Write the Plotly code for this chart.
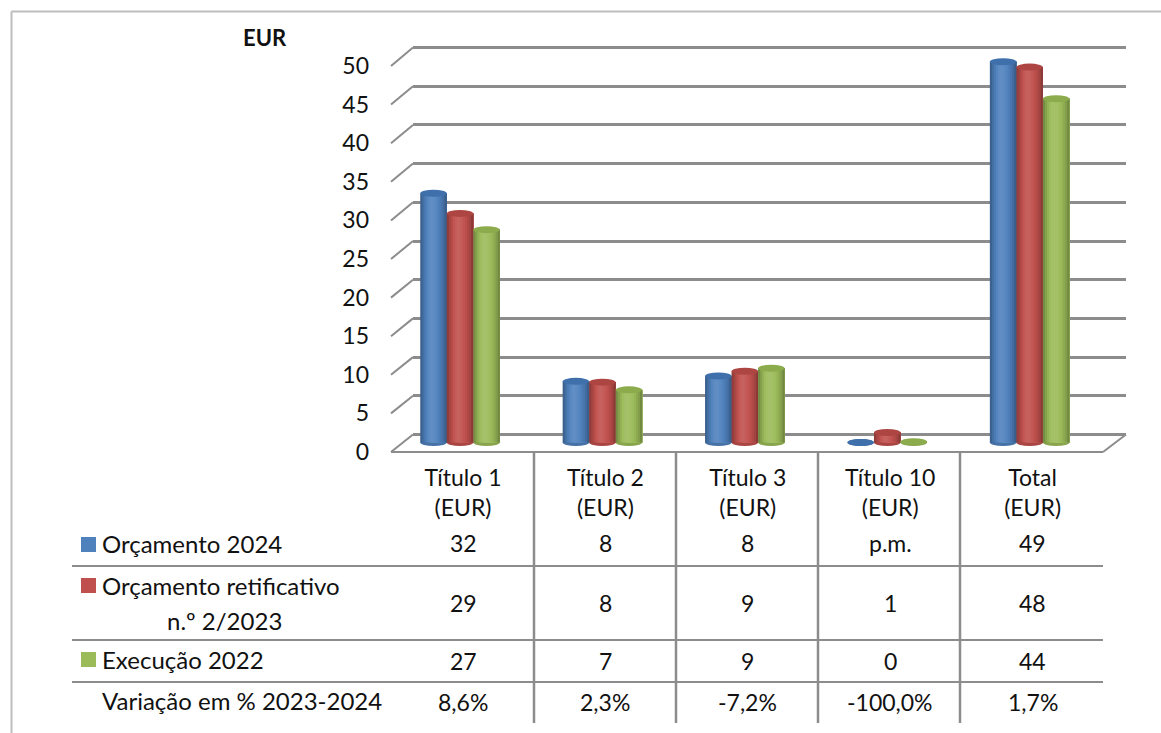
import plotly.graph_objects as go

# ---------- data ----------
categories = ["Título 1<br>(EUR)", "Título 2<br>(EUR)", "Título 3<br>(EUR)", "Título 10<br>(EUR)", "Total<br>(EUR)"]
orcamento_2024 = [32.2, 7.9, 8.6, 0.0, 49.2]
orcamento_retificativo = [29.6, 7.8, 9.2, 1.3, 48.5]
execucao_2022 = [27.5, 6.8, 9.6, 0.1, 44.4]
series_names = ["Orçamento 2024", "Orçamento retificativo<br>n.º 2/2023", "Execução 2022"]
row_2024 = ["32", "8", "8", "p.m.", "49"]
row_retificativo = ["29", "8", "9", "1", "48"]
row_execucao = ["27", "7", "9", "0", "44"]
row_variacao = ["8,6%", "2,3%", "-7,2%", "-100,0%", "1,7%"]
y_ticks = [0, 5, 10, 15, 20, 25, 30, 35, 40, 45, 50]

# ---------- layout helpers ----------
W, H = 1161, 733
FONT = "Lato"
FS = 24
NS = 23
TXT = "#111111"
GRID = "#8c8c8c"
px = lambda v: v / W
py = lambda v: 1 - v / H

def y_range(zero_px, scale):
    return [(zero_px - H) / scale, zero_px / scale]

def x_of(p):
    return (p - 463) / 142.4

def mix(c, t, k):
    a = [int(c[i:i + 2], 16) for i in (1, 3, 5)]
    b = [int(t[i:i + 2], 16) for i in (1, 3, 5)]
    return "#%02x%02x%02x" % tuple(round(x + (y - x) * k) for x, y in zip(a, b))

colors = ["#4f81bd", "#c0504d", "#9bbb59"]
top_colors = ["#3f70ab", "#ad4643", "#8cab4c"]
values = [orcamento_2024, orcamento_retificativo, execucao_2022]
x_pos = list(range(len(categories)))

bar_w = 26.5 / 142.4
group_shift = -3 / 142.4
# brightness across the cylinder: dark edge, light centre-left, dark edge
profile = [-.25, -.14, -.05, .03, .08, .10, .09, .06, .02, -.03, -.09, -.16, -.27]
N = len(profile)

fig = go.Figure()
shapes = []

# traces that keep the back-wall and front scales alive
fig.add_trace(go.Scatter(x=[0], y=[0], yaxis="y", mode="markers", marker=dict(opacity=0), showlegend=False, hoverinfo="skip"))
fig.add_trace(go.Scatter(x=[0], y=[0], yaxis="y3", mode="markers", marker=dict(opacity=0), showlegend=False, hoverinfo="skip"))

# cylinder bases below the bars
for s, vals in enumerate(values):
    off = group_shift + (s - 1) * bar_w
    for i, v in enumerate(vals):
        shapes.append(dict(type="circle", layer="below", xref="x", yref="y2", xsizemode="scaled",
                           ysizemode="pixel", yanchor=0, y0=-3.5, y1=3.5,
                           x0=i + off - bar_w / 2, x1=i + off + bar_w / 2,
                           fillcolor=mix(colors[s], "#000000", .12), line=dict(width=0)))

# cylinders: one bar per strip for the shading, later strips paint over earlier ones
for s, vals in enumerate(values):
    off = group_shift + (s - 1) * bar_w - bar_w / 2
    for k, b in enumerate(profile):
        col = mix(colors[s], "#ffffff", b) if b > 0 else mix(colors[s], "#000000", -b)
        fig.add_trace(go.Bar(x=x_pos, y=vals, yaxis="y2", width=bar_w * (1 - k / N),
                             offset=off + k * bar_w / N, marker=dict(color=col, line=dict(width=0)),
                             name=series_names[s].replace("<br>", " "), showlegend=False))
    for i, v in enumerate(vals):
        shapes.append(dict(type="circle", layer="above", xref="x", yref="y2", xsizemode="scaled",
                           ysizemode="pixel", yanchor=v, y0=-3.5, y1=3.5,
                           x0=i + off, x1=i + off + bar_w,
                           fillcolor=top_colors[s], line=dict(width=0)))

# frame of the picture
frame = "#bdbdbd"
shapes.append(dict(type="line", xref="paper", yref="paper", x0=px(11.5), x1=px(W), y0=py(11.5), y1=py(11.5), line=dict(color=frame, width=2)))
shapes.append(dict(type="line", xref="paper", yref="paper", x0=px(11.5), x1=px(11.5), y0=py(11.5), y1=0, line=dict(color=frame, width=2)))

# diagonal ticks from the front scale to the back wall
for t in y_ticks:
    shapes.append(dict(type="path", layer="below", xref="paper", yref="paper",
                       path="M %f %f L %f %f" % (px(391), py(452 - t * 7.72), px(413), py(434.5 - t * 7.74)),
                       line=dict(color=GRID, width=2)))

# floor
for p0, p1 in [((391, 452), (1103, 452)), ((1103, 452), (1126, 434.5))]:
    shapes.append(dict(type="line", layer="below", xref="paper", yref="paper",
                       x0=px(p0[0]), y0=py(p0[1]), x1=px(p1[0]), y1=py(p1[1]), line=dict(color=GRID, width=2)))

# table rules
for yp in (566, 640, 682):
    shapes.append(dict(type="line", xref="paper", yref="paper", x0=px(72), x1=px(1103), y0=py(yp), y1=py(yp), line=dict(color=GRID, width=2)))
for xp in (534, 676, 818, 960):
    shapes.append(dict(type="line", xref="paper", yref="paper", x0=px(xp), x1=px(xp), y0=py(452), y1=py(723), line=dict(color=GRID, width=2.5)))

# legend keys
for c, (a, b) in zip(colors, [(537, 552), (578, 593), (652, 667)]):
    shapes.append(dict(type="rect", xref="paper", yref="paper", x0=px(81), x1=px(96), y0=py(a), y1=py(b), fillcolor=c, line=dict(width=0)))

ann = []
def label(xp, yp, text, anchor="left", size=FS, bold=False):
    ann.append(dict(xref="paper", yref="paper", x=px(xp), y=py(yp), text=("<b>%s</b>" % text) if bold else text,
                    showarrow=False, xanchor=anchor, yanchor="middle", xshift=-2 if anchor == "left" else 0,
                    font=dict(family=FONT, size=size, color=TXT)))

label(102, 543, series_names[0])
label(102, 585, "Orçamento retificativo")
label(224, 620, "n.º 2/2023", "center")
label(102, 659, series_names[2])
label(102, 700, "Variação em % 2023-2024")
label(265, 38, "EUR", "center", 22, True)

for row, yp in [(row_2024, 543), (row_retificativo, 603), (row_execucao, 661), (row_variacao, 702)]:
    for i, t in enumerate(row):
        ann.append(dict(xref="x", yref="paper", x=i, y=py(yp), text=t, showarrow=False, xanchor="center",
                        yanchor="middle", font=dict(family=FONT, size=NS, color=TXT)))

fig.update_layout(
    width=W, height=H, margin=dict(l=0, r=0, t=0, b=0), autosize=False,
    paper_bgcolor="white", plot_bgcolor="white", barmode="overlay", showlegend=False,
    font=dict(family=FONT, size=FS, color=TXT),
    shapes=shapes, annotations=ann,
    xaxis=dict(domain=[px(413), px(1126)], range=[x_of(413), x_of(1126)], type="linear", tickmode="array", tickvals=x_pos,
               ticktext=categories, anchor="free", position=py(462), showgrid=False, zeroline=False,
               showline=False, ticks="", tickfont=dict(family=FONT, size=NS, color=TXT)),
    yaxis=dict(domain=[0, 1], range=y_range(434.5, 7.74), tickmode="array", tickvals=y_ticks, showticklabels=False,
               showgrid=True, gridcolor=GRID, gridwidth=2.5, zeroline=False, showline=False, ticks=""),
    yaxis2=dict(domain=[0, 1], range=y_range(442.5, 7.74), overlaying="y", visible=False),
    yaxis3=dict(domain=[0, 1], range=y_range(452, 7.72), overlaying="y", anchor="free", position=px(369), side="left",
                tickmode="array", tickvals=y_ticks, showgrid=False, zeroline=False, showline=False, ticks="",
                tickfont=dict(family=FONT, size=NS, color=TXT)),
)

fig.write_html("out.html", config={"displayModeBar": False},
               post_script="document.body.style.margin='0';")
